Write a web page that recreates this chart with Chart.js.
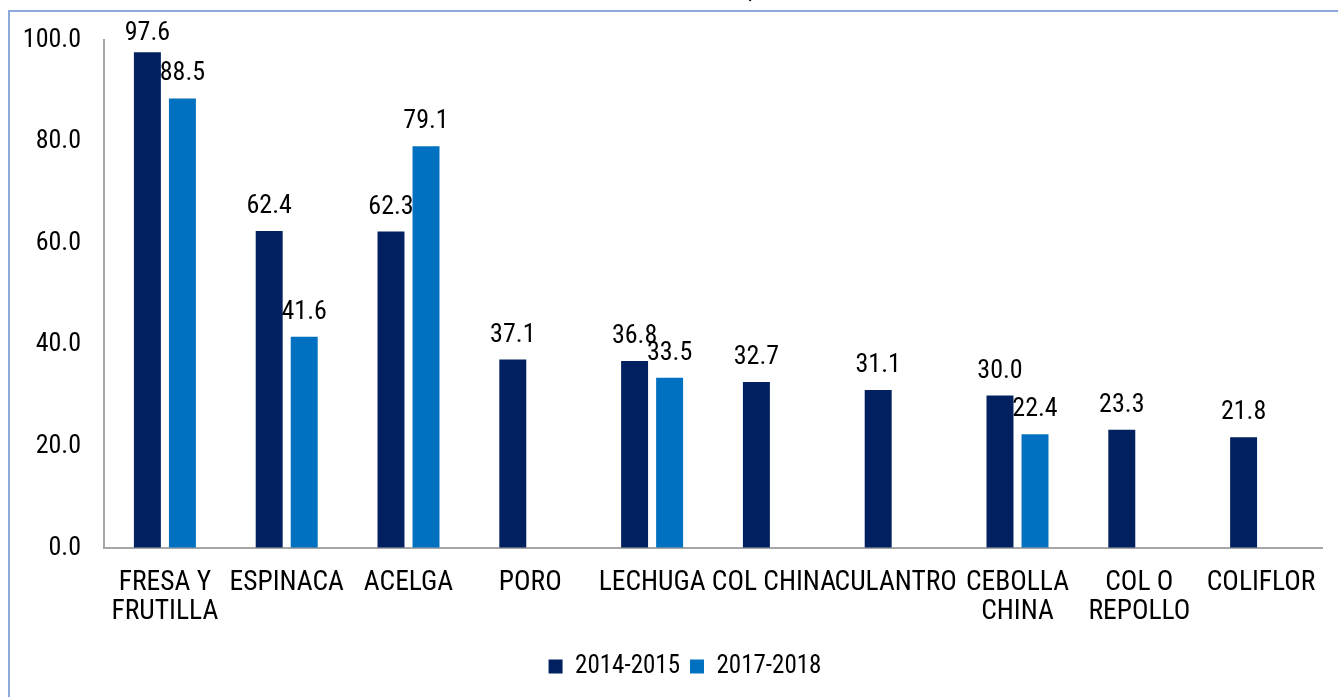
<!DOCTYPE html>
<html>
<head>
<meta charset="utf-8">
<script src="https://cdn.jsdelivr.net/npm/chart.js@4"></script>
<style>
  html, body { margin: 0; padding: 0; background: #fff; overflow: hidden; }
  #frame {
    position: absolute; left: 8px; top: 10px; width: 2000px; height: 2000px;
    border: 2px solid #8eaadc;
  }
  #grafica { position: absolute; left: 0; top: 0; }
</style>
</head>
<body>
<div id="frame"></div>
<canvas id="grafica" width="1338" height="697"></canvas>
<script>
const categorias = [
  ["FRESA Y", "FRUTILLA"], "ESPINACA", "ACELGA", "PORO", "LECHUGA",
  "COL CHINA", "CULANTRO", ["CEBOLLA", "CHINA"], ["COL O", "REPOLLO"], "COLIFLOR"
];
const serie2014 = [97.6, 62.4, 62.3, 37.1, 36.8, 32.7, 31.1, 30.0, 23.3, 21.8];
const serie2017 = [88.5, 41.6, 79.1, null, 33.5, null, null, 22.4, null, null];
const ticksY = [0, 20, 40, 60, 80, 100];

const fuente = "'Roboto Condensed', sans-serif";
const tam = 27.5;
const tamNum = 26;

// valores encima de cada barra
const etiquetas = {
  id: 'etiquetas',
  afterLayout(chart) {
    // la leyenda del original esta algo corrida a la derecha
    chart.legend.left += 24;
    chart.legend.right += 24;
  },
  afterDatasetsDraw(chart) {
    const ctx = chart.ctx;
    ctx.save();
    ctx.font = tamNum + "px " + fuente;
    ctx.fillStyle = '#000';
    ctx.textAlign = 'center';
    ctx.textBaseline = 'alphabetic';
    chart.data.datasets.forEach((ds, i) => {
      chart.getDatasetMeta(i).data.forEach((bar, j) => {
        const v = ds.data[j];
        if (v === null) return;
        ctx.fillText(v.toFixed(1), bar.x, Math.max(bar.y - 18, 40));
      });
    });
    // resto del titulo cortado arriba
    ctx.fillText(",", 751, -2);
    ctx.restore();
  }
};

new Chart(document.getElementById("grafica").getContext("2d"), {
  type: "bar",
  data: {
    labels: categorias,
    datasets: [
      { label: "2014-2015", data: serie2014, backgroundColor: "#002060", borderWidth: 0 },
      { label: "2017-2018", data: serie2017, backgroundColor: "#0070C0", borderWidth: 0 }
    ]
  },
  options: {
    responsive: false,
    devicePixelRatio: 1,
    animation: false,
    categoryPercentage: 0.575,
    barPercentage: 0.77,
    layout: { padding: { top: 40, right: 16, left: 0, bottom: 8 } },
    plugins: {
      legend: {
        position: "bottom",
        labels: {
          boxWidth: 14,
          boxHeight: 14,
          padding: 10,
          color: "#000",
          font: { family: fuente, size: 25 }
        }
      },
      tooltip: { enabled: false }
    },
    scales: {
      x: {
        grid: { display: true, drawOnChartArea: false, drawTicks: false },
        border: { display: true, color: "#a6a6a6", width: 2 },
        ticks: {
          color: "#000",
          font: { family: fuente, size: tam, lineHeight: 1.05 },
          maxRotation: 0,
          minRotation: 0,
          autoSkip: false,
          padding: 21
        },
        afterFit(scale) { scale.height = 96; }
      },
      y: {
        min: 0,
        max: 100,
        grid: { display: true, drawOnChartArea: false, drawTicks: false },
        border: { display: true, color: "#a6a6a6", width: 2 },
        afterBuildTicks(scale) { scale.ticks = ticksY.map(v => ({ value: v })); },
        ticks: {
          color: "#000",
          font: { family: fuente, size: tamNum },
          padding: 23,
          callback: v => v.toFixed(1)
        },
        afterFit(scale) { scale.width = 104; }
      }
    }
  },
  plugins: [etiquetas]
});
</script>
</body>
</html>
